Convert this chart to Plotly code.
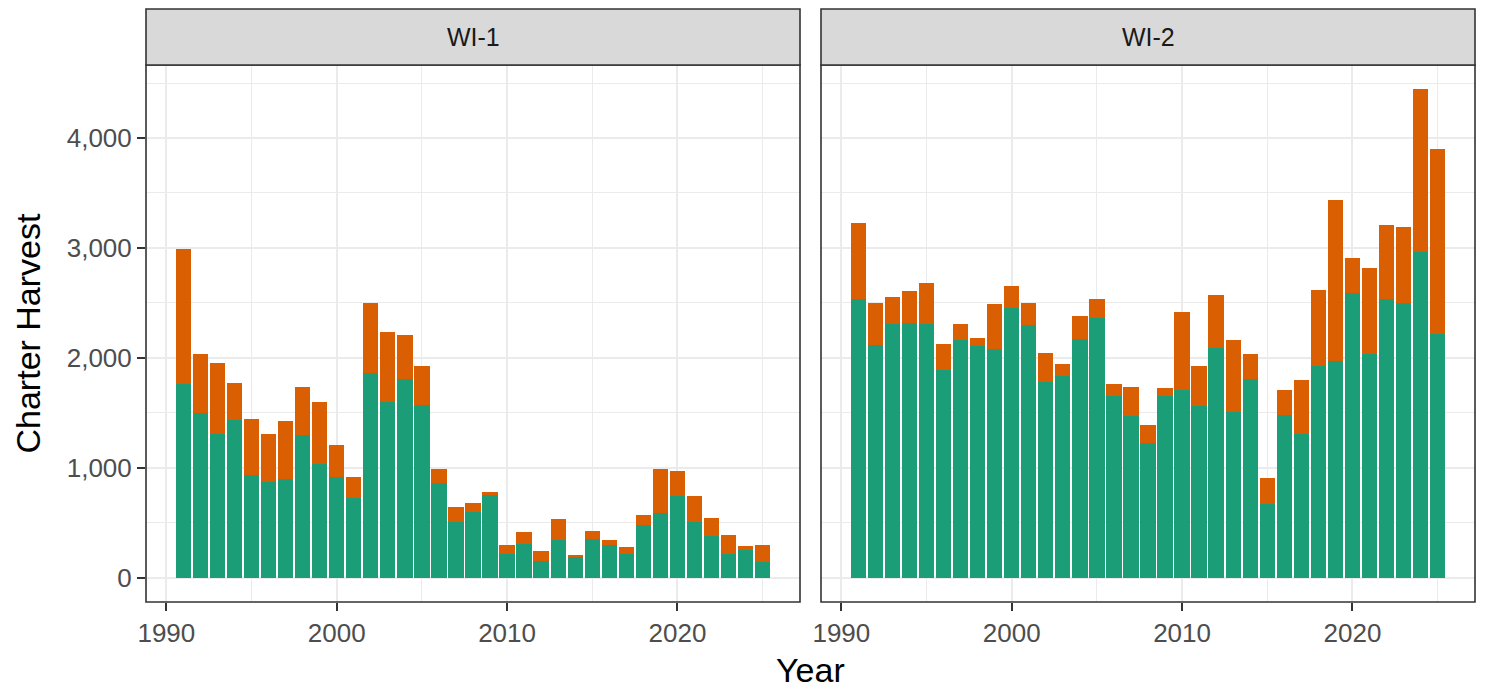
import plotly.graph_objects as go
from plotly.subplots import make_subplots

years = list(range(1991, 2026))
panels = ["WI-1", "WI-2"]

wi1_green = [1761, 1497, 1309, 1430, 936, 867, 897, 1294, 1033, 915, 724, 1858, 1594, 1809, 1570,
             858, 509, 597, 755, 212, 309, 152, 342, 185, 355, 294, 215, 479, 585, 739, 506, 376,
             218, 248, 145]
wi1_orange = [1229, 536, 642, 340, 503, 442, 530, 436, 561, 288, 194, 639, 639, 397, 351,
              133, 133, 85, 24, 85, 106, 93, 194, 21, 66, 45, 67, 91, 403, 228, 239, 169,
              167, 40, 149]
wi2_green = [2533, 2118, 2303, 2315, 2309, 1891, 2158, 2106, 2082, 2452, 2294, 1782, 1836, 2170, 2364,
             1648, 1467, 1224, 1651, 1709, 1564, 2088, 1503, 1809, 670, 1476, 1303, 1927, 1970, 2594,
             2039, 2539, 2500, 2961, 2212]
wi2_orange = [697, 379, 249, 294, 367, 230, 151, 70, 403, 200, 203, 263, 103, 206, 175,
              110, 266, 161, 76, 712, 363, 485, 658, 221, 236, 230, 497, 688, 1469, 318,
              776, 667, 691, 1481, 1685]

x_ticks = [1990, 2000, 2010, 2020]
y_ticks = [0, 1000, 2000, 3000, 4000]
y_tick_labels = ["0", "1,000", "2,000", "3,000", "4,000"]

GREEN = "#1B9E77"
ORANGE = "#D95F02"
GRID = "#EBEBEB"
DARK = "#333333"
FONT = "Liberation Sans, Arial, sans-serif"

# page body has an 8px default margin; the figure is sized to fit inside the window
OFF = 8
W, H = 1488 - OFF, 692 - OFF
L, R, T, B = 146 - OFF, 13, 65 - OFF, 90
plot_w = W - L - R
plot_h = H - T - B
gap = (821 - 800) / plot_w

fig = make_subplots(rows=1, cols=2, shared_yaxes=True, horizontal_spacing=gap)

series = [(wi1_green, wi1_orange), (wi2_green, wi2_orange)]
for i, (g, o) in enumerate(series):
    fig.add_trace(go.Bar(x=years, y=g, width=0.9, marker=dict(color=GREEN, line=dict(width=0)),
                         name="Series 1", showlegend=False), row=1, col=i + 1)
    fig.add_trace(go.Bar(x=years, y=o, width=0.9, marker=dict(color=ORANGE, line=dict(width=0)),
                         name="Series 2", showlegend=False), row=1, col=i + 1)

ymax = max(max(a + b for a, b in zip(g, o)) for g, o in series)
yr = [-0.05 * ymax, 1.05 * ymax]
xlo, xhi = years[0] - 0.45, years[-1] + 0.45
span = xhi - xlo
xr = [xlo - 0.05 * span, xhi + 0.05 * span]

tickfont = dict(family=FONT, size=26, color="#4D4D4D")

for c in (1, 2):
    fig.update_xaxes(range=xr, tickvals=x_ticks, ticks="outside", ticklen=8, tickwidth=1.6,
                     tickcolor=DARK, showgrid=True, gridcolor=GRID, gridwidth=2,
                     minor=dict(dtick=5, tick0=1985, showgrid=True, gridcolor=GRID, gridwidth=1, ticks=""),
                     showline=False, zeroline=False, tickfont=tickfont, row=1, col=c)
    fig.update_yaxes(range=yr, tickvals=y_ticks, ticktext=y_tick_labels, showgrid=True,
                     gridcolor=GRID, gridwidth=2,
                     minor=dict(dtick=500, tick0=0, showgrid=True, gridcolor=GRID, gridwidth=1, ticks=""),
                     zeroline=False, showline=False, tickfont=tickfont, row=1, col=c)

fig.update_yaxes(ticks="outside", ticklen=8, tickwidth=1.6, tickcolor=DARK, row=1, col=1)
fig.update_yaxes(ticks="", showticklabels=False, row=1, col=2)

shapes = []
annotations = []
strip_top = 1 + (65 - 9) / plot_h
for i, name in enumerate(panels):
    xa = fig.layout["xaxis" if i == 0 else "xaxis2"]
    d0, d1 = xa.domain
    shapes.append(dict(type="rect", xref="paper", yref="paper", x0=d0, x1=d1, y0=0, y1=1,
                       line=dict(color=DARK, width=1.6), fillcolor="rgba(0,0,0,0)", layer="above"))
    shapes.append(dict(type="rect", xref="paper", yref="paper", x0=d0, x1=d1, y0=1, y1=strip_top,
                       line=dict(color=DARK, width=1.6), fillcolor="#D9D9D9", layer="above"))
    annotations.append(dict(text=name, xref="paper", yref="paper", x=(d0 + d1) / 2,
                            y=(1 + strip_top) / 2, showarrow=False, xanchor="center", yanchor="middle",
                            font=dict(family=FONT, size=25, color="#1A1A1A")))

annotations.append(dict(text="Year", xref="paper", yref="paper", x=0.5, y=-(670 - 602) / plot_h,
                        showarrow=False, xanchor="center", yanchor="middle",
                        font=dict(family=FONT, size=34, color="black")))
annotations.append(dict(text="Charter Harvest", xref="paper", yref="paper", x=-(146 - 27) / plot_w,
                        y=0.5, showarrow=False, xanchor="center", yanchor="middle", textangle=-90,
                        font=dict(family=FONT, size=34, color="black")))

fig.update_layout(width=W, height=H, margin=dict(l=L, r=R, t=T, b=B, autoexpand=False),
                  barmode="stack", bargap=0, plot_bgcolor="white", paper_bgcolor="white",
                  shapes=shapes, annotations=annotations, showlegend=False,
                  font=dict(family=FONT))

fig.write_html("out.html")
